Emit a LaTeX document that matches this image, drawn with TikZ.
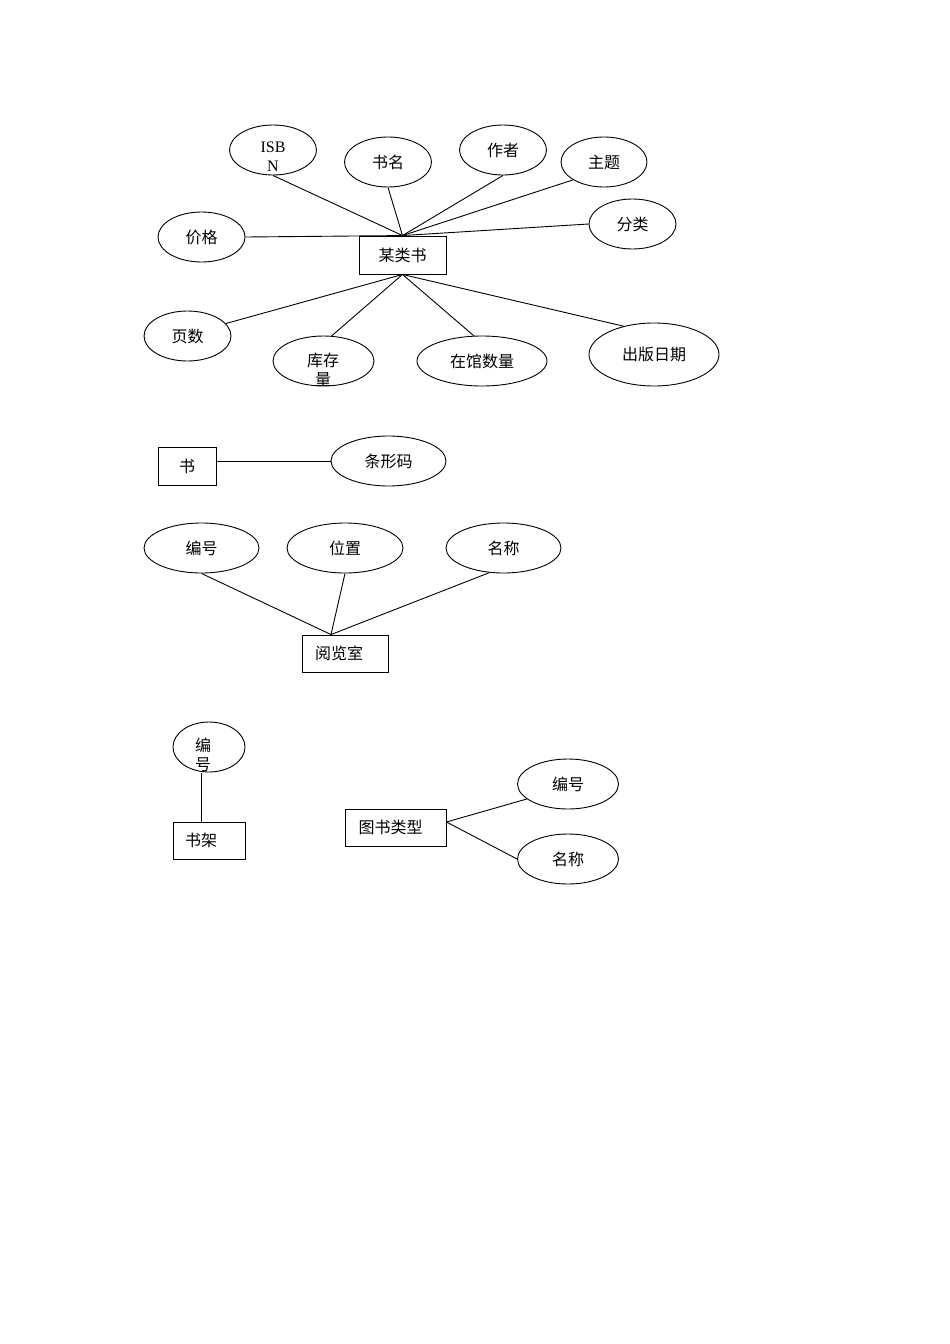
\documentclass[tikz,border=0pt]{standalone}
\usepackage{fontspec}
\setmainfont{Liberation Serif}
\newfontfamily\cjk{Noto Sans CJK SC}
\usetikzlibrary{shapes.geometric}
\begin{document}
\begin{tikzpicture}[x=1pt,y=-1pt,
  base/.style={inner sep=0pt, line width=0.9pt, font=\cjk\fontsize{16}{19}\selectfont},
  ent/.style={base, draw, rectangle},
  attr/.style={base, draw, ellipse},
  txt/.style={inner sep=0pt, align=center, font=\cjk\fontsize{16}{19}\selectfont},
  conn/.style={line width=0.9pt}]
\useasboundingbox (0,0) rectangle (950,1344);

% ---------- 某类书 ----------
\node[ent, minimum width=87pt, minimum height=38pt] (mls) at (402.5,255) {某类书};
\node[attr, minimum width=87pt, minimum height=50pt] (isbn) at (273,150) {};
\node[txt, font=\fontsize{16}{19}\selectfont] (isbnt) at (273,157) {ISB\\N};
\node[attr, minimum width=87pt, minimum height=50pt] (sm) at (388,162) {书名};
\node[attr, minimum width=87pt, minimum height=50pt] (zz) at (503,150) {作者};
\node[attr, minimum width=86pt, minimum height=50pt] (zt) at (604,162) {主题};
\node[attr, minimum width=87pt, minimum height=50pt] (fl) at (632.5,224) {分类};
\node[attr, minimum width=87pt, minimum height=50pt] (jg) at (201.5,237) {价格};
\node[attr, minimum width=87pt, minimum height=50pt] (ys) at (187.5,336) {页数};
\node[attr, minimum width=101pt, minimum height=50pt] (kcl) at (323.5,361) {};
\node[txt] (kclt) at (323,369.5) {库存\\量};
\node[attr, minimum width=130pt, minimum height=50pt] (zgsl) at (482,361) {在馆数量};
\node[attr, minimum width=130pt, minimum height=63pt] (cbrq) at (654,354.5) {出版日期};

\draw[conn] (isbn.south) -- (mls.north);
\draw[conn] (sm.south) -- (mls.north);
\draw[conn] (zz.south) -- (mls.north);
\draw[conn] (zt.210) -- (mls.north);
\draw[conn] (fl.west) -- (mls.north);
\draw[conn] (jg.east) -- (mls.north);
\draw[conn] (ys.18) -- (mls.south);
\draw[conn] (kcl.72) -- (mls.south);
\draw[conn] (zgsl.108) -- (mls.south);
\draw[conn] (cbrq.137) -- (mls.south);

% ---------- 书 ----------
\node[ent, minimum width=58pt, minimum height=38pt] (shu) at (187,466) {书};
\node[attr, minimum width=115pt, minimum height=50pt] (txm) at (388.5,461) {条形码};
\draw[conn] (txm.west) -- (txm.west -| shu.east);

% ---------- 阅览室 ----------
\node[ent, minimum width=86pt, minimum height=37pt] (yls) at (345,653.5) {阅览室\hspace*{12pt}};
\node[attr, minimum width=115pt, minimum height=50pt] (ylsbh) at (201.5,548) {编号};
\node[attr, minimum width=116pt, minimum height=50pt] (wz) at (345,548) {位置};
\node[attr, minimum width=115pt, minimum height=50pt] (ylsmc) at (503.5,548) {名称};
\coordinate (ylsj) at ([xshift=-14pt]yls.north);
\draw[conn] (ylsbh.south) -- (ylsj);
\draw[conn] (wz.south) -- (ylsj);
\draw[conn] (ylsmc.240) -- (ylsj);

% ---------- 书架 ----------
\node[ent, minimum width=72pt, minimum height=37pt] (sj) at (209,840.5) {书架\hspace*{16pt}};
\node[attr, minimum width=72pt, minimum height=50pt] (sjbh) at (209,747) {};
\node[txt] (sjbht) at (203,755) {编\\号};
\draw[conn] ([xshift=-8pt]sj.north) -- ([xshift=-8pt,yshift=-0.6pt]sjbh.south);

% ---------- 图书类型 ----------
\node[ent, minimum width=101pt, minimum height=37pt] (tslx) at (395.5,827.5) {图书类型\hspace*{10pt}};
\node[attr, minimum width=101pt, minimum height=50pt] (lxbh) at (568,784) {编号};
\node[attr, minimum width=101pt, minimum height=50pt] (lxmc) at (568,859) {名称};
\coordinate (tslxj) at ([yshift=5.5pt]tslx.east);
\draw[conn] (tslxj) -- (lxbh.200);
\draw[conn] (tslxj) -- (lxmc.west);
\end{tikzpicture}
\end{document}
